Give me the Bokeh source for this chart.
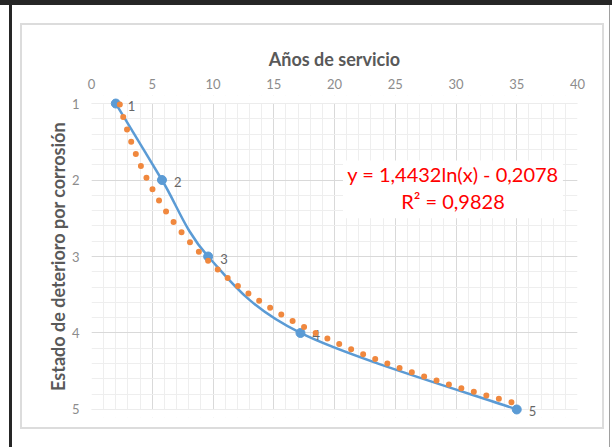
import numpy as np
from bokeh.plotting import figure
from bokeh.layouts import column
from bokeh.models import Range1d, SingleIntervalTicker, Label, BoxAnnotation, ColumnDataSource
from bokeh.embed import file_html
from bokeh.resources import INLINE
from bokeh.core.properties import value

# ---- data ----
anos = [2.0, 5.8, 9.6, 17.2, 35.0]          # Años de servicio
estado = [1, 2, 3, 4, 5]                     # Estado de deterioro por corrosión
etiquetas = ["1", "2", "3", "4", "5"]        # data labels
coef_a = 1.4432                              # logarithmic trendline: y = a ln(x) + b
coef_b = -0.2078
r2 = 0.9828
x_title = "Años de servicio"
y_title = "Estado de deterioro por corrosión"

FONT = "Lato"
BLUE = "#5b9bd5"
ORANGE = "#f0883e"
PAD = 0.105   # small vertical padding so end markers are not clipped

p = figure(width=580, height=402,
           x_range=Range1d(0, 40), y_range=Range1d(5 + PAD, 1 - PAD),
           x_axis_location="above",
           output_backend="svg", toolbar_location=None,
           min_border_left=69, min_border_right=25,
           min_border_top=70, min_border_bottom=10,
           margin=(25, 0, 0, 22),
           background_fill_color="white", border_fill_color="white")
p.styles = {"outline": "2px solid #dcdcdc"}
p.outline_line_color = None

# axes
p.xaxis.ticker = SingleIntervalTicker(interval=5, num_minor_ticks=5)
p.yaxis.ticker = SingleIntervalTicker(interval=1, num_minor_ticks=5)
p.xaxis.axis_label = x_title
p.yaxis.axis_label = y_title
for ax in (p.xaxis[0], p.yaxis[0]):
    ax.axis_line_color = None
    ax.major_tick_line_color = None
    ax.minor_tick_line_color = None
    ax.major_label_text_font = FONT
    ax.major_label_text_font_size = "13px"
    ax.major_label_text_color = "#8c8c8c"
    ax.axis_label_text_font = FONT
    ax.axis_label_text_font_size = "18px"
    ax.axis_label_text_font_style = "bold"
    ax.axis_label_text_color = "#595959"
p.xaxis.major_label_standoff = 1
p.yaxis.major_label_standoff = 6
p.xaxis.axis_label_standoff = 6
p.yaxis.axis_label_standoff = 0
p.yaxis.major_label_orientation = "horizontal"

# grid
for g in (p.xgrid[0], p.ygrid[0]):
    g.grid_line_color = "#d9d9d9"
    g.grid_line_width = 1
    g.minor_grid_line_color = "#eeeeee"
    g.minor_grid_line_width = 1
p.xgrid.ticker = p.xaxis.ticker
p.ygrid.ticker = p.yaxis.ticker

# hide grid stubs in the padding strips (drawn right after the grid)
p.add_layout(BoxAnnotation(top=1 - PAD, bottom=1, fill_color="white", fill_alpha=1,
                           line_color=None, level="underlay"))
p.add_layout(BoxAnnotation(top=5, bottom=5 + PAD, fill_color="white", fill_alpha=1,
                           line_color=None, level="underlay"))

# smoothed series line (Bezier segments, as Excel's smoothed line)
xs = np.array(anos, dtype=float)
ys = np.array(estado, dtype=float)
xp = np.concatenate([[xs[0]], xs, [xs[-1]]])
yp = np.concatenate([[ys[0]], ys, [ys[-1]]])
n = len(xs)
seg = dict(
    x0=xs[:-1], y0=ys[:-1], x1=xs[1:], y1=ys[1:],
    cx0=xs[:-1] + (xp[2:n + 1] - xp[0:n - 1]) / 6.0,
    cy0=ys[:-1] + (yp[2:n + 1] - yp[0:n - 1]) / 6.0,
    cx1=xs[1:] - (xp[3:n + 2] - xp[1:n]) / 6.0,
    cy1=ys[1:] - (yp[3:n + 2] - yp[1:n]) / 6.0,
)
p.bezier(x0="x0", y0="y0", x1="x1", y1="y1", cx0="cx0", cy0="cy0", cx1="cx1", cy1="cy1",
         source=ColumnDataSource(seg), line_color=BLUE, line_width=2.5)

src = ColumnDataSource(dict(x=anos, y=estado, lab=etiquetas))
p.scatter("x", "y", source=src, size=9, fill_color=BLUE, line_color=BLUE)

# data labels
p.text("x", "y", text="lab", source=src, x_offset=12, y_offset=2,
       text_font=value(FONT), text_font_size="13px", text_color="#666666",
       text_baseline="middle", text_align="left")

# logarithmic trendline from the displayed equation, clipped to the axis range
tx = np.linspace(min(anos), max(anos), 500)
ty = coef_a * np.log(tx) + coef_b
keep = ty >= 1
tx, ty = tx[keep], ty[keep]
p.line(tx, ty, line_color=ORANGE, line_width=6, line_dash="0 13", line_cap="round")

# equation box
p.add_layout(BoxAnnotation(left=20.7, right=38.8, top=1.745, bottom=2.5,
                           fill_color="white", fill_alpha=1.0, line_color=None))
eq1 = "y = {:.4f}ln(x) - {:.4f}".format(coef_a, abs(coef_b)).replace(".", ",")
eq2 = "R² = {:.4f}".format(r2).replace(".", ",")
p.add_layout(Label(x=29.75, y=1.915, text=eq1, text_font=FONT, text_font_size="20px",
                   text_color="#ff0000", text_align="center", text_baseline="middle"))
p.add_layout(Label(x=29.75, y=2.28, text=eq2, text_font=FONT, text_font_size="20px",
                   text_color="#ff0000", text_align="center", text_baseline="middle"))

root = column(p, width=612, height=447, styles={
    "background": ("linear-gradient(#262626,#262626) 0 0 / 100% 5px no-repeat, "
                   "linear-gradient(#262626,#262626) 9px 0 / 3px 100% no-repeat, "
                   "linear-gradient(#a0a0a0,#a0a0a0) 609px 0 / 1px 100% no-repeat, #ffffff")})

open("out.html", "w").write(file_html(root, INLINE))
